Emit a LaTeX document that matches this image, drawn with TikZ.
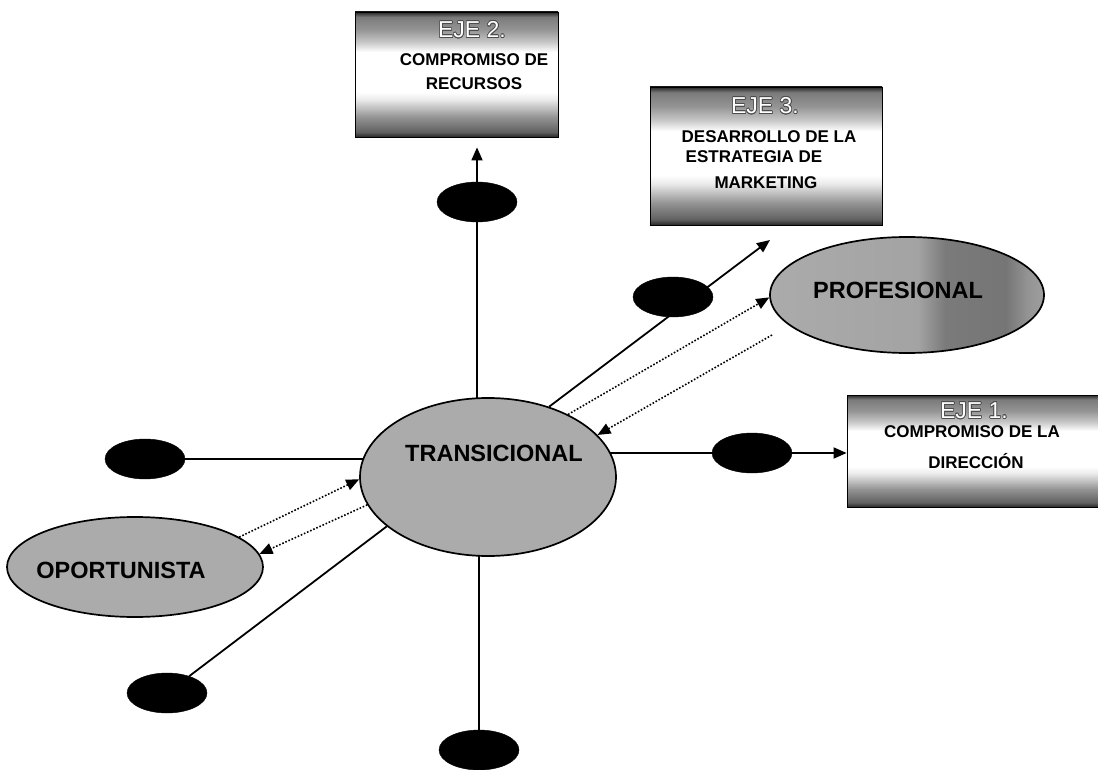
\documentclass[tikz,border=0pt]{standalone}
\usepackage{fontspec}
\setmainfont{Liberation Sans}
\usepackage[copies]{contour}
\usetikzlibrary{shapes.geometric,arrows.meta,backgrounds}

% shading of the axis boxes: gray edges, white band in the middle
% (the part between 25bp and 75bp covers the box)
\pgfdeclareverticalshading{ejeshade}{100bp}{color(0bp)=(black!85); color(25bp)=(black!85); color(27bp)=(black!62); color(33bp)=(black!42); color(40bp)=(black!8); color(43bp)=(white); color(59bp)=(white); color(63bp)=(black!22); color(68bp)=(black!42); color(73bp)=(black!52); color(75bp)=(black!85); color(100bp)=(black!85)}
% gray ellipse with a darker band on its right part
\pgfdeclarehorizontalshading{profshade}{100bp}{color(0bp)=(black!33); color(25bp)=(black!33); color(52bp)=(black!36); color(57bp)=(black!52); color(68bp)=(black!54); color(72bp)=(black!42); color(75bp)=(black!38); color(100bp)=(black!38)}

\newcommand\ejetitle[1]{{\fontsize{23}{25}\selectfont\contourlength{0.7pt}\contour{black!70}{\textcolor{white}{#1}}}}

\tikzset{
  ejebox/.style={rectangle, draw=black, line width=0.8pt, shading=ejeshade, inner sep=0pt},
  stage/.style={ellipse, draw=black, line width=1.7pt, fill=black!33, inner sep=0pt},
  dot/.style={ellipse, fill=black, draw=black, minimum width=80pt, minimum height=40pt, inner sep=0pt},
  stagelab/.style={font=\fontsize{23.5}{26}\selectfont\bfseries, inner sep=0pt},
  boxlab/.style={font=\fontsize{17}{19}\selectfont\bfseries, inner sep=0pt},
  conn/.style={line width=1.8pt},
  arr/.style={-{Triangle[length=13pt,width=11pt]}},
  dotconn/.style={line width=1.6pt, dash pattern=on 1.6pt off 1.8pt}
}

\begin{document}
\begin{tikzpicture}[x=1pt,y=-1pt]
\useasboundingbox (0,0) rectangle (1098,770);

% axis boxes
\node[ejebox, minimum width=203pt, minimum height=125pt] (eje2) at (456.5,74.5) {};
\node[ejebox, minimum width=232pt, minimum height=138pt] (eje3) at (766,156) {};
\node[ejebox, minimum width=251pt, minimum height=112pt] (eje1) at (972.5,451) {};

\node[inner sep=0pt] (e2t) at (472,30) {\ejetitle{EJE 2.}};
\node[boxlab] (e2a) at (474,60) {COMPROMISO DE};
\node[boxlab] (e2b) at (474,84) {RECURSOS};

\node[inner sep=0pt] (e3t) at (765,106) {\ejetitle{EJE 3.}};
\node[boxlab] (e3a) at (769,137) {DESARROLLO DE LA};
\node[boxlab] (e3b) at (754,157) {ESTRATEGIA DE};
\node[boxlab] (e3c) at (766,183) {MARKETING};

\node[inner sep=0pt] (e1t) at (974,411) {\ejetitle{EJE 1.}};
\node[boxlab] (e1a) at (972,432) {COMPROMISO DE LA};
\node[boxlab] (e1b) at (976,461) {DIRECCIÓN};

% stages
\node[stage, minimum width=256pt, minimum height=158pt] (trans) at (488,477) {};
\node[stage, minimum width=274pt, minimum height=116pt, shading=profshade] (prof) at (907,295) {};
\node[stage, minimum width=256pt, minimum height=100pt] (opo) at (135,567) {};

\node[stagelab] (tlab) at (494,453) {TRANSICIONAL};
\node[stagelab] (plab) at (898,290) {PROFESIONAL};
\node[stagelab] (olab) at (121,570) {OPORTUNISTA};

% black markers on the axes
\node[dot] (btop) at (477,202) {};
\node[dot] (bur) at (673,297) {};
\node[dot] (bright) at (752,453) {};
\node[dot] (bleft) at (145,459) {};
\node[dot] (bll) at (167,693) {};
\node[dot] (bbot) at (479,750) {};

% free ends
\coordinate (t3) at (770,240);
\coordinate (pb) at (772,335);

% axes, drawn behind the ellipses
\begin{scope}[on background layer]
  \draw[conn,arr] (btop |- trans.center) -- ([yshift=-10pt]btop |- eje2.south);
  \draw[conn,arr] (trans.49) -- (t3);
  \draw[conn,arr] (bright -| trans.center) -- (bright -| eje1.west);
  \draw[conn] (bleft -| trans.center) -- (bleft.east);
  \draw[conn] (trans.206) -- (bll);
  \draw[conn] (bbot |- trans.center) -- (bbot);
\end{scope}

% transitions between stages
\draw[dotconn,arr] (trans.38) -- (prof.181);
\draw[dotconn,arr] (pb) -- (trans.21);
\draw[dotconn,arr] (opo.16) -- (trans.181);
\draw[dotconn,arr] (trans.193) -- (opo.6);
\end{tikzpicture}
\end{document}
